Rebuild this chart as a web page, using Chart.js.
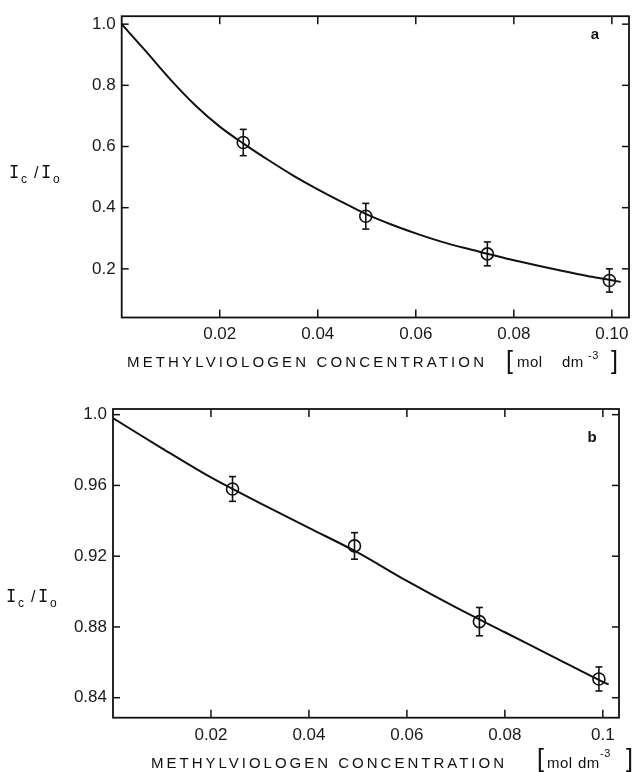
<!DOCTYPE html>
<html><head><meta charset="utf-8">
<script src="https://cdn.jsdelivr.net/npm/chart.js@4.4.1/dist/chart.umd.min.js"></script>
<style>
html,body{margin:0;padding:0;background:#fff;}
#wrap{position:relative;width:639px;height:772px;overflow:hidden;background:#fff}
#ca{position:absolute;left:0;top:0}
#cb{position:absolute;left:0;top:390px}
</style></head><body>
<div id="wrap"><canvas id="ca" width="639" height="390"></canvas><canvas id="cb" width="639" height="382"></canvas></div>
<script>
// ---------- Panel a ----------
const concA = [0.0248, 0.0498, 0.0746, 0.0995];
const ratioA = [0.613, 0.372, 0.249, 0.162];
const errA = [0.043, 0.042, 0.039, 0.038];
const fitConcA = [0, 0.005, 0.01, 0.015, 0.02, 0.025, 0.03, 0.035, 0.04, 0.045, 0.05, 0.055, 0.06, 0.065, 0.07, 0.075, 0.08, 0.085, 0.09, 0.095, 0.1, 0.1018];
const fitRatioA = [1.0, 0.91, 0.818, 0.735, 0.665, 0.608, 0.555, 0.505, 0.46, 0.418, 0.378, 0.345, 0.316, 0.29, 0.268, 0.248, 0.228, 0.21, 0.193, 0.177, 0.163, 0.157];
const xTicksA = [0.02, 0.04, 0.06, 0.08, 0.10];
const xTickLabelsA = ['0.02', '0.04', '0.06', '0.08', '0.10'];
const yTicksA = [0.2, 0.4, 0.6, 0.8, 1.0];
const yTickLabelsA = ['0.2', '0.4', '0.6', '0.8', '1.0'];

// ---------- Panel b ----------
const concB = [0.0244, 0.0493, 0.0748, 0.0992];
const ratioB = [0.958, 0.9258, 0.883, 0.8506];
const errB = [0.007, 0.0075, 0.008, 0.0068];
const fitConcB = [0, 0.01, 0.02, 0.0244, 0.03, 0.04, 0.05, 0.06, 0.07, 0.08, 0.09, 0.1, 0.1012];
const fitRatioB = [0.998, 0.981, 0.9645, 0.958, 0.950, 0.936, 0.922, 0.906, 0.891, 0.877, 0.863, 0.849, 0.8475];
const xTicksB = [0.02, 0.04, 0.06, 0.08, 0.1];
const xTickLabelsB = ['0.02', '0.04', '0.06', '0.08', '0.1'];
const yTicksB = [0.84, 0.88, 0.92, 0.96, 1.0];
const yTickLabelsB = ['0.84', '0.88', '0.92', '0.96', '1.0'];

const xTitle = 'METHYLVIOLOGEN CONCENTRATION';
const unitParts = ['[', 'mol', 'dm', '-3', ']'];
const INK = '#111';
const FONT = '"Liberation Sans", Arial, sans-serif';

function framePlugin(o) {
  return {
    id: 'frame',
    afterDraw(chart) {
      const {ctx, chartArea: a, scales: {x, y}} = chart;
      const ds = chart.data.datasets[1].data;
      ctx.save();
      ctx.strokeStyle = INK; ctx.fillStyle = INK;
      ctx.lineWidth = 1.8;
      ctx.strokeRect(a.left, a.top, a.right - a.left, a.bottom - a.top);
      const seg = (x1, y1, x2, y2) => { ctx.beginPath(); ctx.moveTo(x1, y1); ctx.lineTo(x2, y2); ctx.stroke(); };
      ctx.lineWidth = 1.5;
      x.ticks.forEach(t => { const p = x.getPixelForValue(t.value); seg(p, a.bottom, p, a.bottom - 8); seg(p, a.top, p, a.top + 8); });
      y.ticks.forEach(t => { const p = y.getPixelForValue(t.value); seg(a.left, p, a.left + 7, p); seg(a.right, p, a.right - 7, p); });
      // error bars
      ctx.lineWidth = 1.6;
      o.err.forEach((e, i) => {
        const px = x.getPixelForValue(ds[i].x);
        const top = y.getPixelForValue(ds[i].y + e), bot = y.getPixelForValue(ds[i].y - e);
        seg(px, top, px, bot);
        seg(px - 3.5, top, px + 3.5, top);
        seg(px - 3.5, bot, px + 3.5, bot);
      });
      // panel letter
      ctx.font = 'bold 15px ' + FONT;
      ctx.textAlign = 'center'; ctx.textBaseline = 'alphabetic';
      ctx.fillText(o.letter, o.letterX, o.letterY);
      // y title  I_c / I_o
      const yx = o.yTitleX, yb = o.yTitleY;
      ctx.textAlign = 'left';
      ctx.font = '17px "DejaVu Sans Mono", monospace';
      ctx.fillText('I', yx, yb);
      ctx.fillText('I', yx + 32, yb);
      ctx.font = '12px ' + FONT;
      ctx.fillText('c', yx + 12, yb + 5);
      ctx.fillText('o', yx + 44, yb + 5);
      ctx.font = '16px ' + FONT;
      ctx.fillText('/', yx + 25, yb);
      // x title
      ctx.font = '15px ' + FONT;
      ctx.letterSpacing = '0px';
      const w0 = ctx.measureText(xTitle).width;
      const sp = (o.xTitleW - w0) / (xTitle.length - 1);
      ctx.letterSpacing = sp.toFixed(2) + 'px';
      ctx.fillText(xTitle, o.xTitleX, o.xTitleY);
      ctx.letterSpacing = '0.5px';
      const u = o.unitX;
      ctx.font = '25px ' + FONT;
      ctx.fillText(unitParts[0], u[0], o.bracketY);
      ctx.fillText(unitParts[4], u[4], o.bracketY);
      ctx.font = '15px ' + FONT;
      ctx.fillText(unitParts[1], u[1], o.xTitleY);
      ctx.fillText(unitParts[2], u[2], o.xTitleY);
      ctx.font = '11px ' + FONT;
      ctx.fillText(unitParts[3], u[3], o.supY);
      ctx.restore();
    }
  };
}

function makeChart(id, cfg) {
  const tickFont = {size: 17, family: FONT};
  return new Chart(document.getElementById(id), {
    data: {
      datasets: [
        {type: 'line', data: cfg.fitX.map((v, i) => ({x: v, y: cfg.fitY[i]})), borderColor: INK, borderWidth: 2,
         pointRadius: 0, cubicInterpolationMode: 'monotone', fill: false},
        {type: 'scatter', data: cfg.px.map((v, i) => ({x: v, y: cfg.py[i]})), borderColor: INK, backgroundColor: 'rgba(0,0,0,0)',
         borderWidth: 1.6, pointRadius: 6, pointStyle: 'circle', showLine: false}
      ]
    },
    options: {
      responsive: false, animation: false, devicePixelRatio: 1,
      layout: {padding: cfg.padding},
      plugins: {legend: {display: false}, tooltip: {enabled: false}},
      scales: {
        x: {type: 'linear', min: cfg.xMin, max: cfg.xMax,
            grid: {display: false, drawTicks: false}, border: {display: false},
            afterBuildTicks: s => { s.ticks = cfg.xTicks.map(v => ({value: v})); },
            ticks: {callback: (v, i) => cfg.xLabels[i], padding: cfg.xPad, font: tickFont, color: '#1a1a1a', maxRotation: 0, autoSkip: false},
            afterFit: s => { s.height = cfg.xH; }},
        y: {type: 'linear', min: cfg.yMin, max: cfg.yMax,
            grid: {display: false, drawTicks: false}, border: {display: false},
            afterBuildTicks: s => { s.ticks = cfg.yTicks.map(v => ({value: v})); },
            ticks: {callback: (v, i) => cfg.yLabels[i], padding: cfg.yPad, font: tickFont, color: '#1a1a1a', autoSkip: false},
            afterFit: s => { s.width = cfg.yW; }}
      }
    },
    plugins: [framePlugin(cfg.frame)]
  });
}

makeChart('ca', {
  fitX: fitConcA, fitY: fitRatioA, px: concA, py: ratioA,
  xTicks: xTicksA, xLabels: xTickLabelsA, yTicks: yTicksA, yLabels: yTickLabelsA,
  xMin: 0, xMax: 0.1035, yMin: 0.041, yMax: 1.026,
  padding: {top: 14.5, right: 10, left: 0, bottom: 0}, xH: 72.5, yW: 121.7, xPad: 7, yPad: 6,
  frame: {err: errA, letter: 'a', letterX: 595, letterY: 39, yTitleX: 9, yTitleY: 178,
          xTitleX: 127, xTitleY: 367, xTitleW: 357, unitX: [506, 517, 562, 588, 611], bracketY: 369, supY: 359}
});
makeChart('cb', {
  fitX: fitConcB, fitY: fitRatioB, px: concB, py: ratioB,
  xTicks: xTicksB, xLabels: xTickLabelsB, yTicks: yTicksB, yLabels: yTickLabelsB,
  xMin: 0, xMax: 0.1033, yMin: 0.8287, yMax: 1.0032,
  padding: {top: 19, right: 20, left: 0, bottom: 0}, xH: 54.3, yW: 113, xPad: 7, yPad: 6,
  frame: {err: errB, letter: 'b', letterX: 592, letterY: 52, yTitleX: 6, yTitleY: 212,
          xTitleX: 151, xTitleY: 378, xTitleW: 353, unitX: [537, 547, 578, 600, 626], bracketY: 377, supY: 367}
});
</script>
</body></html>
